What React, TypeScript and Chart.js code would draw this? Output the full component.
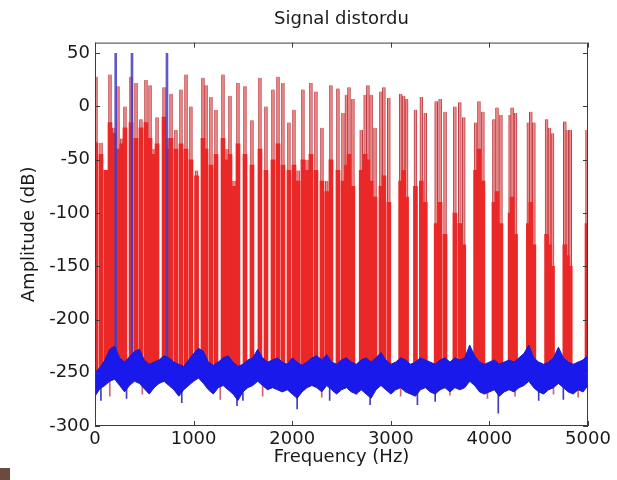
import React, { useEffect, useRef } from "react";
import { Chart, registerables } from "chart.js";

Chart.register(...registerables);

const TITLE = "Signal distordu";
const X_LABEL = "Frequency (Hz)";
const Y_LABEL = "Amplitude (dB)";
const X_TICKS = [0, 1000, 2000, 3000, 4000, 5000];
const Y_TICKS = [-300, -250, -200, -150, -100, -50, 0, 50];

// Red (distorted) spectrum: harmonic lines (Hz), their peak level and the level of the dense red skirt
const RED_FREQ = [
  10, 61, 110, 152, 190, 233, 270, 304, 365, 416, 466, 517, 558, 600, 629, 700, 740, 771, 821, 872,
  923, 973, 1030, 1095, 1126, 1176, 1227, 1298, 1340, 1369, 1410, 1450, 1521, 1592, 1673, 1734, 1805, 1856, 1906, 1967,
  2018, 2060, 2109, 2150, 2190, 2241, 2302, 2350, 2393, 2464, 2515, 2550, 2576, 2616, 2700, 2740, 2768, 2800, 2840, 2900,
  2930, 2980, 3100, 3130, 3160, 3250, 3310, 3350, 3460, 3500, 3550, 3650, 3700, 3740, 3860, 3894, 3934, 4046, 4077, 4117,
  4210, 4230, 4265, 4395, 4420, 4451, 4580, 4610, 4640, 4765, 4790, 4820, 4990,
];
const RED_PEAK = [
  28, -34, -60, 30, -20, 19, -30, 0, 28, 22, -12, 25, 20, -40, -10, 18, -30, 12, -22, 16,
  30, 0, -60, 27, 20, 9, -3, 30, -40, 10, -70, 22, 19, -13, 27, 0, 16, 28, 22, -15,
  -3, -60, 16, -50, 22, 14, -20, -70, 20, 17, -6, 11, 18, 7, -22, 11, 20, 11, -20, 14,
  18, 8, 12, 10, 7, -3, 9, -6, 5, 7, -5, 0, 4, -10, -15, 5, -5, -12, -1, -8,
  -8, -1, -6, -15, -5, -15, -12, -20, -25, -14, -22, -22, -22,
];
const RED_CORE = [
  -34, -45, -60, -15, -25, -40, -35, -20, -15, -30, -20, -15, -30, -45, -35, -10, -40, -30, -40, -35,
  -40, -50, -65, -30, -40, -55, -45, -30, -50, -45, -75, -35, -45, -55, -40, -60, -50, -35, -55, -60,
  -55, -70, -50, -60, -45, -60, -70, -80, -50, -60, -70, -55, -45, -75, -60, -45, -50, -70, -85, -75,
  -65, -90, -70, -60, -85, -75, -70, -90, -110, -90, -120, -100, -110, -130, -60, -40, -70, -90, -80, -110,
  -100, -85, -120, -110, -90, -130, -120, -130, -150, -130, -140, -150, -110,
];
const RED_BASE = -250;

// Red floor dips below the noise band
const RED_DIP_FREQ = [150, 480, 1270, 1700, 2300, 2650, 3100, 3600, 3980, 4260, 4650, 4900];
const RED_DIP_LOW = [-272, -270, -275, -272, -273, -270, -272, -271, -274, -272, -270, -273];

// Blue (clean) spectrum: the three tones
const BLUE_TONE_FREQ = [210, 375, 730];
const BLUE_TONE_PEAK = [50, 50, 50];

// Blue noise floor envelope
const NOISE_FREQ = [
  0, 50, 100, 150, 200, 250, 300, 350, 400, 450, 500, 550, 600, 650, 700, 750, 800, 850, 900, 950,
  1000, 1050, 1100, 1150, 1200, 1250, 1300, 1350, 1400, 1450, 1500, 1550, 1600, 1650, 1700, 1750, 1800, 1850, 1900, 1950,
  2000, 2050, 2100, 2150, 2200, 2250, 2300, 2350, 2400, 2450, 2500, 2550, 2600, 2650, 2700, 2750, 2800, 2850, 2900, 2950,
  3000, 3050, 3100, 3150, 3200, 3250, 3300, 3350, 3400, 3450, 3500, 3550, 3600, 3650, 3700, 3750, 3800, 3850, 3900, 3950,
  4000, 4050, 4100, 4150, 4200, 4250, 4300, 4350, 4400, 4450, 4500, 4550, 4600, 4650, 4700, 4750, 4800, 4850, 4900, 4950,
  5000,
];
const BLUE_TOP = [
  -250, -245, -238, -228, -225, -236, -240, -235, -230, -228, -238, -242, -240, -238, -234, -236, -240, -242, -244, -238,
  -232, -227, -230, -240, -243, -240, -236, -234, -240, -244, -242, -238, -236, -228, -236, -240, -238, -236, -240, -242,
  -236, -240, -243, -240, -236, -234, -238, -233, -240, -242, -238, -236, -240, -242, -238, -236, -240, -236, -231, -238,
  -242, -240, -236, -238, -242, -240, -236, -238, -240, -242, -238, -236, -240, -236, -238, -236, -224, -234, -240, -242,
  -240, -238, -242, -240, -238, -240, -236, -232, -224, -236, -240, -242, -240, -236, -226, -236, -240, -242, -240, -238,
  -233,
];
const BLUE_BOTTOM = [
  -272, -265, -262, -258, -256, -262, -268, -262, -258, -260, -265, -270, -264, -260, -258, -262, -266, -272, -266, -262,
  -258, -255, -260, -266, -270, -264, -262, -266, -270, -276, -268, -264, -262, -258, -262, -266, -264, -266, -268, -266,
  -270, -274, -268, -264, -262, -264, -268, -262, -266, -270, -266, -264, -268, -270, -266, -270, -274, -266, -262, -266,
  -270, -266, -264, -268, -270, -272, -266, -264, -268, -270, -266, -264, -268, -264, -266, -264, -258, -262, -268, -270,
  -268, -266, -272, -268, -266, -268, -264, -262, -258, -264, -268, -270, -266, -264, -260, -264, -268, -270, -266, -268,
  -262,
];
const BLUE_DIP_FREQ = [60, 320, 880, 1440, 1500, 2050, 2380, 2790, 3270, 3450, 4090, 4500, 4750];
const BLUE_DIP_LOW = [-276, -274, -278, -281, -276, -284, -276, -280, -280, -277, -288, -276, -275];

const FONT = { family: "'DejaVu Sans', sans-serif", size: 18, weight: "normal" as const };
const TEXT = "#1a1a1a";

const boxPlugin = {
  id: "matlabBox",
  afterDatasetsDraw(chart: any) {
    const { ctx, chartArea: a, scales } = chart;
    ctx.save();
    ctx.strokeStyle = "#3c3c3c";
    ctx.lineWidth = 1;
    ctx.strokeRect(a.left + 0.5, a.top + 0.5, a.right - a.left - 1, a.bottom - a.top - 1);
    const L = 5;
    ctx.beginPath();
    scales.x.ticks.forEach((t: any) => {
      const px = Math.round(scales.x.getPixelForValue(t.value)) + 0.5;
      ctx.moveTo(px, a.bottom);
      ctx.lineTo(px, a.bottom - L);
      ctx.moveTo(px, a.top);
      ctx.lineTo(px, a.top + L);
    });
    scales.y.ticks.forEach((t: any) => {
      const py = Math.round(scales.y.getPixelForValue(t.value)) + 0.5;
      ctx.moveTo(a.left, py);
      ctx.lineTo(a.left + L, py);
      ctx.moveTo(a.right, py);
      ctx.lineTo(a.right - L, py);
    });
    ctx.stroke();
    ctx.restore();
  },
};

export default function App() {
  const ref = useRef<HTMLCanvasElement | null>(null);

  useEffect(() => {
    if (!ref.current) return;
    const chart = new Chart(ref.current, {
      type: "bar",
      data: {
        datasets: [
          {
            type: "bar",
            data: RED_FREQ.map((f, i) => ({ x: f, y: [RED_BASE, RED_PEAK[i]] })),
            backgroundColor: "rgb(242,140,136)",
            borderColor: "rgb(185,60,70)",
            borderWidth: { left: 1, right: 1, top: 0, bottom: 0 },
            borderSkipped: false,
            barThickness: 3,
            grouped: false,
            order: 10,
          } as any,
          {
            type: "bar",
            data: RED_FREQ.map((f, i) => ({ x: f, y: [RED_BASE, RED_CORE[i]] })),
            backgroundColor: "rgb(234,40,40)",
            borderWidth: 0,
            barThickness: 4,
            grouped: false,
            order: 9,
          } as any,
          {
            type: "bar",
            data: RED_DIP_FREQ.map((f, i) => ({ x: f, y: [-255, RED_DIP_LOW[i]] })),
            backgroundColor: "rgba(200,70,100,0.85)",
            borderWidth: 0,
            barThickness: 1,
            grouped: false,
            order: 8,
          } as any,
          {
            type: "bar",
            data: BLUE_TONE_FREQ.map((f, i) => ({ x: f, y: [RED_BASE, BLUE_TONE_PEAK[i]] })),
            backgroundColor: "rgba(70,60,190,0.85)",
            borderWidth: 0,
            barThickness: 2,
            grouped: false,
            order: 7,
          } as any,
          {
            type: "bar",
            data: BLUE_DIP_FREQ.map((f, i) => ({ x: f, y: [-258, BLUE_DIP_LOW[i]] })),
            backgroundColor: "rgba(40,40,190,0.9)",
            borderWidth: 0,
            barThickness: 1,
            grouped: false,
            order: 4,
          } as any,
          {
            type: "line",
            data: NOISE_FREQ.map((f, i) => ({ x: f, y: BLUE_TOP[i] })),
            borderColor: "rgb(35,30,170)",
            borderWidth: 1,
            pointRadius: 0,
            fill: false,
            order: 3,
          } as any,
          {
            type: "line",
            data: NOISE_FREQ.map((f, i) => ({ x: f, y: BLUE_BOTTOM[i] })),
            borderColor: "rgb(35,30,170)",
            backgroundColor: "rgb(25,25,235)",
            borderWidth: 1,
            pointRadius: 0,
            fill: "-1",
            order: 2,
          } as any,
        ],
      },
      options: {
        responsive: false,
        animation: false,
        devicePixelRatio: 1,
        layout: { padding: { left: 0, right: 29, top: 0, bottom: 0 } },
        plugins: {
          legend: { display: false },
          tooltip: { enabled: false },
          title: {
            display: true,
            text: TITLE,
            fullSize: false,
            color: TEXT,
            font: FONT,
            padding: { top: 9, bottom: 12 },
          },
        },
        scales: {
          x: {
            type: "linear",
            min: 0,
            max: 5000,
            offset: false,
            grid: { display: false, drawTicks: false },
            border: { display: false },
            ticks: {
              padding: 3,
              color: TEXT,
              font: FONT,
              maxRotation: 0,
              autoSkip: false,
              callback: (v: any) => String(v),
            },
            afterBuildTicks: (s: any) => {
              s.ticks = X_TICKS.map((v) => ({ value: v }));
            },
            afterFit: (s: any) => {
              s.height = 54;
            },
            title: { display: true, text: X_LABEL, color: TEXT, font: FONT, padding: { top: 0, bottom: 12 } },
          },
          y: {
            type: "linear",
            min: -300,
            max: 60,
            grid: { display: false, drawTicks: false },
            border: { display: false },
            ticks: {
              padding: 5,
              color: TEXT,
              font: FONT,
              autoSkip: false,
              callback: (v: any) => String(v),
            },
            afterBuildTicks: (s: any) => {
              s.ticks = Y_TICKS.map((v) => ({ value: v }));
            },
            afterFit: (s: any) => {
              s.width = 95;
            },
            title: { display: true, text: Y_LABEL, color: TEXT, font: FONT, padding: { top: 19, bottom: 0 } },
          },
        },
      } as any,
      plugins: [boxPlugin],
    });
    return () => chart.destroy();
  }, []);

  return (
    <div style={{ position: "absolute", left: 0, top: 0, width: 617, height: 480, background: "#fff" }}>
      <canvas ref={ref} width={617} height={480} style={{ width: 617, height: 480, display: "block" }} />
      <div style={{ position: "absolute", left: 0, top: 468, width: 10, height: 12, background: "#6b4a40" }} />
    </div>
  );
}
